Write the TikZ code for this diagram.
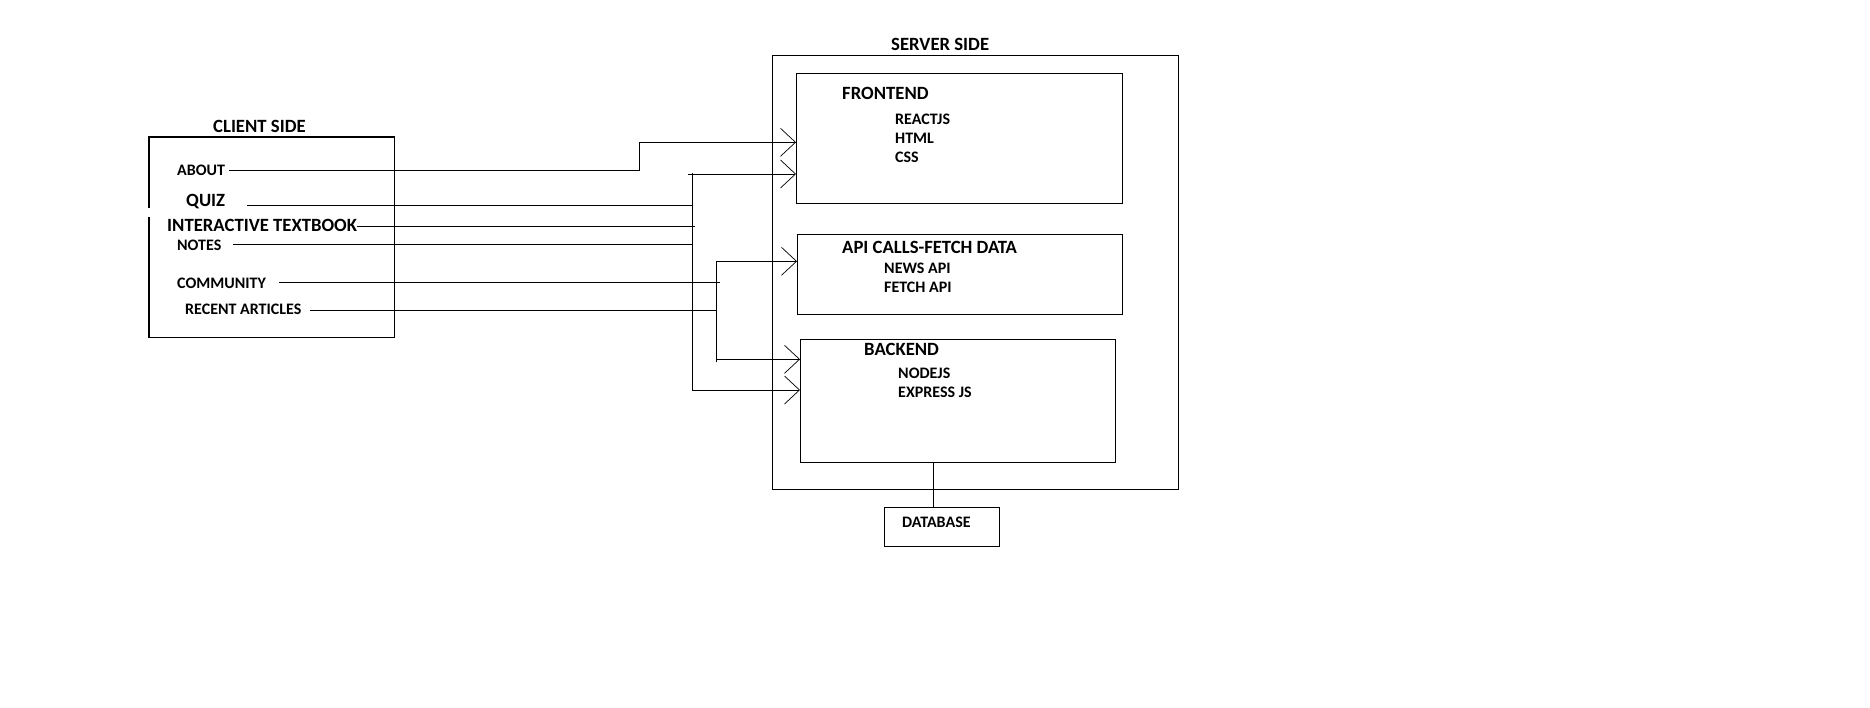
\documentclass[tikz,border=0pt]{standalone}
\usepackage{fontspec}
\setmainfont{Carlito}
\usetikzlibrary{arrows.meta}
\begin{document}
\begin{tikzpicture}[x=1pt,y=-1pt,
  box/.style={draw, line width=1.2pt, inner sep=0pt, anchor=north west},
  big/.style={inner sep=0pt, anchor=base west, font=\fontsize{18.7}{22}\selectfont\bfseries},
  small/.style={inner sep=0pt, anchor=base west, font=\fontsize{16}{19}\selectfont\bfseries},
  wire/.style={line width=1pt},
  arr/.style={wire, -{Straight Barb[length=15pt,width=28pt,line width=0.7pt]}}]
\useasboundingbox (0,0) rectangle (1870,707);
% boxes
\node[box, minimum width=406pt, minimum height=434pt] (srv) at (772,55) {};
\node[box, minimum width=326pt, minimum height=130pt] (fe) at (796,73) {};
\node[box, minimum width=325pt, minimum height=80pt] (api) at (797,234) {};
\node[box, minimum width=315pt, minimum height=123pt] (be) at (800,339) {};
\node[box, minimum width=115pt, minimum height=39pt] (db) at (884,507) {};
\node[inner sep=0pt, anchor=north west, minimum width=245pt, minimum height=200pt] (cl) at (149,137) {};
\draw[line width=1.2pt] (cl.north west |- 0,208) -- (cl.north west) -- (cl.north east) -- (cl.south east) -- (cl.south west) -- (cl.south west |- 0,217);
% texts
\node[big] (ss) at (891,50) {SERVER SIDE};
\node[big] (cs) at (213,132) {CLIENT SIDE};
\node[big] (fet) at (842,99) {FRONTEND};
\node[small] (r) at (895,124) {REACTJS};
\node[small] (h) at (895,143) {HTML};
\node[small] (c) at (895,162) {CSS};
\node[big] (apit) at (842,253) {API CALLS-FETCH DATA};
\node[small] (na) at (884,273) {NEWS API};
\node[small] (fa) at (884,292) {FETCH API};
\node[big] (bet) at (864,355) {BACKEND};
\node[small] (nj) at (898,378) {NODEJS};
\node[small] (ej) at (898,397) {EXPRESS JS};
\node[small] (dbt) at (902,527) {DATABASE};
\node[small] (about) at (177,175) {ABOUT};
\node[big] (quiz) at (186,206) {QUIZ};
\node[big] (itb) at (167,231) {INTERACTIVE TEXTBOOK};
\node[small] (notes) at (177,250) {NOTES};
\node[small] (comm) at (177,288) {COMMUNITY};
\node[small] (rec) at (185,314) {RECENT ARTICLES};
% connector free ends
\coordinate (aboutS) at (229,170.3);
\coordinate (quizS) at (247,205.3);
\coordinate (itbS) at (357,226.5);
\coordinate (notesS) at (233,244.5);
\coordinate (commS) at (279,282.3);
\coordinate (recS) at (310,310.3);
\coordinate (v1top) at (692,173);
\coordinate (v1bot) at (692,390);
\coordinate (v2top) at (716,261.3);
\coordinate (v2mid) at (716,359.3);
\coordinate (v2bot) at (716,362.3);
% connectors
\draw[arr] (aboutS) -| (639,142.3) -- (fe.west |- 0,142.3);
\draw[arr] (688,174) -- (fe.west |- 0,174);
\draw[arr] (v1top) -- (v1bot) -- (be.west |- v1bot);
\draw[wire] (quizS) -- (692,205.3);
\draw[wire] (itbS) -- (695,226.5);
\draw[wire] (notesS) -- (692,244.5);
\draw[wire] (commS) -- (720,282.3);
\draw[wire] (recS) -- (716,310.3);
\draw[wire] (v2bot) -- (v2top);
\draw[arr] (v2top) -- (api.west |- v2top);
\draw[arr] (v2mid) -- (be.west |- v2mid);
\draw[wire] (be.south -| 933,0) -- (db.north -| 933,0);
\end{tikzpicture}
\end{document}
